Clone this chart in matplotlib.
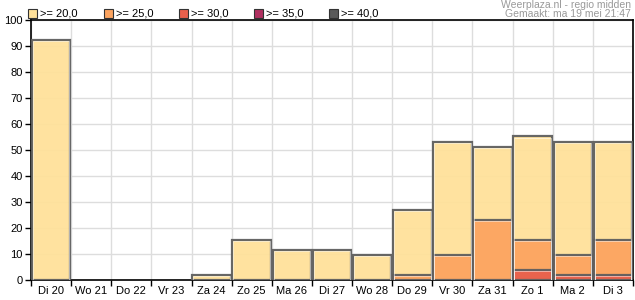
import numpy as np
import matplotlib
matplotlib.use('Agg')
import matplotlib.pyplot as plt
from matplotlib.patches import Rectangle

days = ['Di 20', 'Wo 21', 'Do 22', 'Vr 23', 'Za 24', 'Zo 25', 'Ma 26', 'Di 27',
        'Wo 28', 'Do 29', 'Vr 30', 'Za 31', 'Zo 1', 'Ma 2', 'Di 3']
p20 = [92.3, 0, 0, 0, 1.9, 15.4, 11.5, 11.5, 9.6, 26.9, 53.1, 51.2, 55.3, 53.1, 53.1]
p25 = [0, 0, 0, 0, 0, 0, 0, 0, 0, 1.9, 9.6, 23.1, 15.4, 9.6, 15.4]
p30 = [0, 0, 0, 0, 0, 0, 0, 0, 0, 0, 0, 0, 3.8, 1.9, 1.9]
p35 = [0] * 15
p40 = [0] * 15

series = [p20, p25, p30, p35, p40]
labels = ['>= 20,0', '>= 25,0', '>= 30,0', '>= 35,0', '>= 40,0']
colors = ['#FFE19A', '#FCA460', '#E8604C', '#B03060', '#5A5A5A']

plt.rcParams['font.family'] = ['Liberation Sans', 'DejaVu Sans']
fig = plt.figure(figsize=(6.35, 3.0), dpi=100)
ax = fig.add_axes([31 / 635, 20 / 300, 602 / 635, 260 / 300])

n = len(days)
x = np.arange(n)
for vals, col in zip(series, colors):
    for xi, v in zip(x, vals):
        if v <= 0:
            continue
        # outline with a soft shadow look
        ax.add_patch(Rectangle((xi - 0.48, 0), 0.96, v, facecolor=col, alpha=0.95,
                               edgecolor='#5f5f5f', linewidth=1.6, zorder=3))
        ax.add_patch(Rectangle((xi - 0.455, 0), 0.91, v - 0.5, facecolor='none',
                               edgecolor='#ffffff', linewidth=0.5, alpha=0.7, zorder=4))

ax.set_xlim(-0.5, n - 0.5)
ax.set_ylim(0, 100)
ax.set_yticks(np.arange(0, 101, 10))
ax.set_xticks(x)
ax.set_xticklabels(days)
ax.set_xticks(np.arange(-0.5, n, 1), minor=True)
ax.tick_params(axis='x', which='major', length=0, labelsize=8, pad=4)
ax.tick_params(axis='x', which='minor', length=4, width=1, color='black')
ax.tick_params(axis='y', length=4, width=1, labelsize=8, pad=2)
ax.grid(True, which='minor', axis='x', color='#dddddd', linewidth=1, zorder=0)
ax.grid(True, which='major', axis='y', color='#dddddd', linewidth=1, zorder=0)
ax.set_axisbelow(True)
for s in ax.spines.values():
    s.set_linewidth(1.2)
    s.set_color('black')

# legend
lx = [28, 104, 179, 254, 329]
for xp, lab, col in zip(lx, labels, colors):
    fig.patches.append(Rectangle((xp / 635, 1 - 18 / 300), 9 / 635, 9 / 300, facecolor=col,
                                 edgecolor='#333333', linewidth=0.8, transform=fig.transFigure))
    fig.text((xp + 12) / 635, 1 - 13.5 / 300, lab, fontsize=8, va='center', ha='left')

fig.text(631 / 635, 1 - 5 / 300, 'Weerplaza.nl - regio midden', fontsize=7.5, color='#999999',
         ha='right', va='center')
fig.text(631 / 635, 1 - 14 / 300, 'Gemaakt: ma 19 mei 21:47', fontsize=7.5, color='#999999',
         ha='right', va='center')

fig.savefig('out.png', dpi=100)
